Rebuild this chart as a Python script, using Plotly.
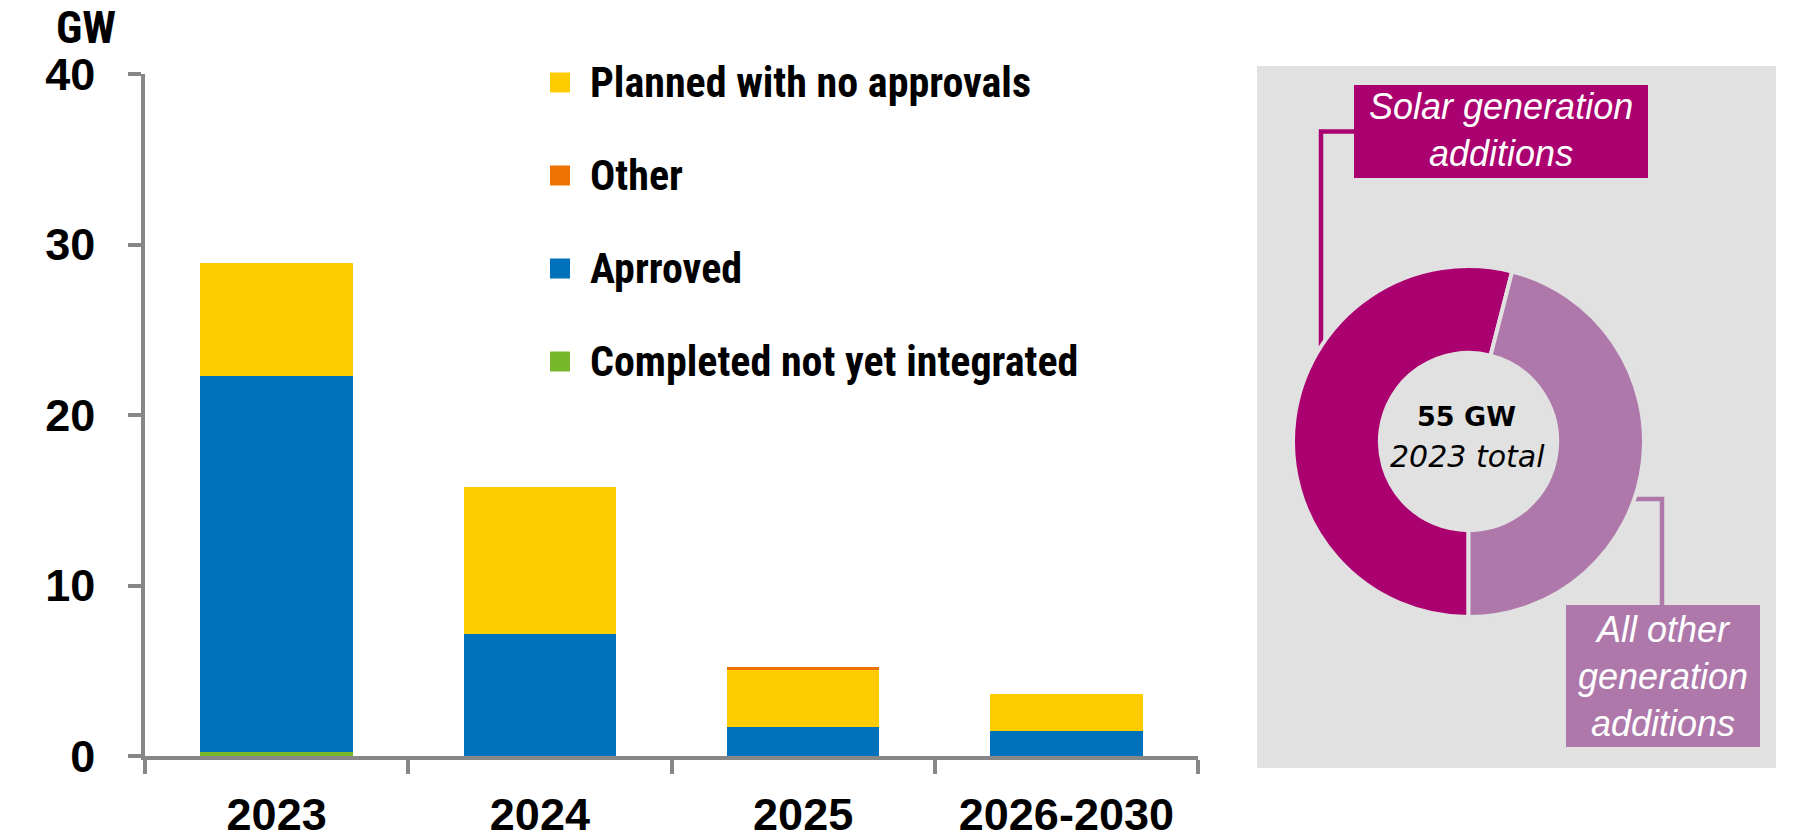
import plotly.graph_objects as go

# ---------------- data ----------------
categories = ["2023", "2024", "2025", "2026-2030"]
completed = [0.25, 0.0, 0.0, 0.0]
approved = [22.05, 7.15, 1.7, 1.45]
planned = [6.6, 8.6, 3.35, 2.2]
other = [0.0, 0.0, 0.18, 0.0]

series_names = ["Completed not yet integrated", "Aprroved", "Planned with no approvals", "Other"]
legend_order = ["Planned with no approvals", "Other", "Aprroved", "Completed not yet integrated"]

y_ticks = [0, 10, 20, 30, 40]

donut_labels = ["Solar generation additions", "All other generation additions"]
donut_values = [29.7, 25.3]
donut_total_text = "55 GW"
donut_sub_text = "2023 total"

# ---------------- styling ----------------
W, H = 1797, 839
C_GREEN = "#78B72A"
C_BLUE = "#0072BC"
C_YELLOW = "#FFCC00"
C_ORANGE = "#EE7203"
C_SOLAR = "#AA0070"
C_OTHER = "#AE78AA"
C_PANEL = "#E1E1E1"
C_AXIS = "#878787"
colors = {"Completed not yet integrated": C_GREEN, "Aprroved": C_BLUE,
          "Planned with no approvals": C_YELLOW, "Other": C_ORANGE}

NARROW = "Roboto Condensed, Open Sans Condensed, Liberation Sans Narrow, Liberation Sans, sans-serif"
SANS = "Liberation Sans, Arial, sans-serif"
DEJAVU = "DejaVu Sans, Verdana, sans-serif"


def px(x):
    return x / W


def py(y):
    return 1 - y / H


fig = go.Figure()

values = {"Completed not yet integrated": completed, "Aprroved": approved,
          "Planned with no approvals": planned, "Other": other}
for name in series_names:
    fig.add_trace(go.Bar(
        x=categories, y=values[name], name=name,
        marker=dict(color=colors[name], line=dict(width=0)),
        showlegend=False, hoverinfo="x+y+name",
    ))

fig.add_trace(go.Pie(
    labels=donut_labels, values=donut_values,
    marker=dict(colors=[C_SOLAR, C_OTHER], line=dict(color=C_PANEL, width=4)),
    hole=0.505, sort=False, direction="clockwise", rotation=180,
    textinfo="none", showlegend=False, hoverinfo="label+value",
    domain=dict(x=[px(1293), px(1644)], y=[py(617), py(266)]),
))

shapes = []
annotations = []

# grey panel
shapes.append(dict(type="rect", xref="paper", yref="paper", layer="below",
                   x0=px(1257), x1=px(1776), y0=py(768), y1=py(66),
                   fillcolor=C_PANEL, line=dict(width=0)))

# connectors (drawn below so the donut covers their ends)
shapes.append(dict(type="path", xref="paper", yref="paper", layer="below",
                   path=f"M {px(1360)},{py(131.5)} L {px(1321)},{py(131.5)} L {px(1321)},{py(360)}",
                   line=dict(color=C_SOLAR, width=4.5)))
shapes.append(dict(type="path", xref="paper", yref="paper", layer="below",
                   path=f"M {px(1620)},{py(499)} L {px(1662)},{py(499)} L {px(1662)},{py(610)}",
                   line=dict(color=C_OTHER, width=4.5)))

# label boxes
shapes.append(dict(type="rect", xref="paper", yref="paper", layer="above",
                   x0=px(1354), x1=px(1648), y0=py(178), y1=py(85),
                   fillcolor=C_SOLAR, line=dict(width=0)))
shapes.append(dict(type="rect", xref="paper", yref="paper", layer="above",
                   x0=px(1566), x1=px(1760), y0=py(747), y1=py(605),
                   fillcolor=C_OTHER, line=dict(width=0)))

annotations.append(dict(xref="paper", yref="paper", x=px(1501), y=py(130),
                        text="Solar generation<br>additions", showarrow=False,
                        xanchor="center", yanchor="middle", align="center",
                        font=dict(family=SANS, size=36, color="white", style="italic")))
annotations.append(dict(xref="paper", yref="paper", x=px(1663), y=py(676),
                        text="All other<br>generation<br>additions", showarrow=False,
                        xanchor="center", yanchor="middle", align="center",
                        font=dict(family=SANS, size=36, color="white", style="italic")))

# donut centre text
annotations.append(dict(xref="paper", yref="paper", x=px(1466), y=py(416),
                        text=donut_total_text, showarrow=False,
                        xanchor="center", yanchor="middle",
                        font=dict(family=DEJAVU, size=27, color="black", weight="bold")))
annotations.append(dict(xref="paper", yref="paper", x=px(1467), y=py(456),
                        text=donut_sub_text, showarrow=False,
                        xanchor="center", yanchor="middle",
                        font=dict(family=DEJAVU, size=30, color="black", style="italic")))

# legend (manual, matching reference spacing)
leg_y = [82.5, 175.5, 268.5, 361.5]
for name, yc in zip(legend_order, leg_y):
    shapes.append(dict(type="rect", xref="paper", yref="paper",
                       x0=px(550), x1=px(570), y0=py(yc + 10), y1=py(yc - 10),
                       fillcolor=colors[name], line=dict(width=0)))
    annotations.append(dict(xref="paper", yref="paper", x=px(588), y=py(yc),
                            text=name, showarrow=False, xanchor="left", yanchor="middle",
                            font=dict(family=NARROW, size=42, color="black", weight="bold")))

# unit label
annotations.append(dict(xref="paper", yref="paper", x=px(86), y=py(28),
                        text="GW", showarrow=False, xanchor="center", yanchor="middle",
                        font=dict(family=NARROW, size=45, color="black", weight="bold")))

fig.update_layout(
    width=W, height=H, autosize=False,
    margin=dict(l=0, r=0, t=0, b=0, autoexpand=False),
    paper_bgcolor="white", plot_bgcolor="white",
    barmode="stack", bargap=0.42,
    shapes=shapes, annotations=annotations,
    xaxis=dict(
        domain=[px(145), px(1198)], type="category", range=[-0.5, 3.5],
        showline=True, linecolor=C_AXIS, linewidth=3.5,
        ticks="outside", tickson="boundaries", ticklen=14, tickwidth=3.5, tickcolor=C_AXIS,
        tickfont=dict(family=SANS, size=45, color="black", weight="bold"),
        ticklabelstandoff=16, showgrid=False, zeroline=False, fixedrange=True, automargin=False,
    ),
    yaxis=dict(
        domain=[py(756), py(74)], range=[0, 40], tickvals=y_ticks,
        showline=True, linecolor=C_AXIS, linewidth=3.5,
        ticks="outside", ticklen=13, tickwidth=3.5, tickcolor=C_AXIS,
        tickfont=dict(family=SANS, size=45, color="black", weight="bold"),
        ticklabelstandoff=24, showgrid=False, zeroline=False, fixedrange=True, automargin=False,
    ),
)

fig.write_html("out.html")
